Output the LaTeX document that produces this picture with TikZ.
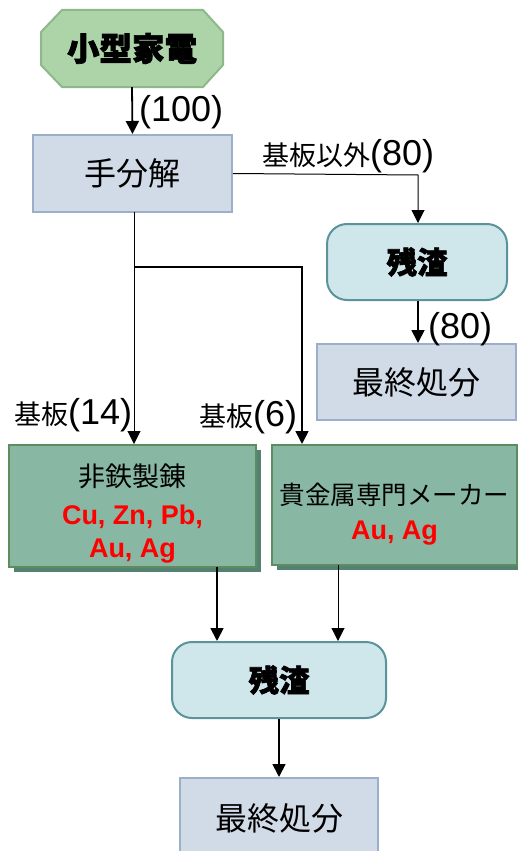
\documentclass[tikz,border=0pt]{standalone}
\usepackage{fontspec}
\setmainfont{Liberation Sans}
\newfontfamily\jp[BoldFeatures={FakeBold=2}]{Noto Sans CJK JP}
\usetikzlibrary{arrows.meta,shadows}
\definecolor{octfill}{HTML}{ADD4A8}
\definecolor{octdraw}{HTML}{8DB98A}
\definecolor{bluefill}{HTML}{D1DBE7}
\definecolor{bluedraw}{HTML}{9CAFC8}
\definecolor{tealfill}{HTML}{CFE6EB}
\definecolor{tealdraw}{HTML}{5A939C}
\definecolor{grnfill}{HTML}{88B8A3}
\definecolor{grndraw}{HTML}{5E8C5E}
\definecolor{grnshadow}{HTML}{548272}
\tikzset{
  bluebox/.style={rectangle, draw=bluedraw, fill=bluefill, line width=2pt, font=\jp\fontsize{32}{34}\selectfont},
  tealbox/.style={rectangle, rounded corners=20pt, draw=tealdraw, fill=tealfill, line width=2pt, font=\jp\bfseries\fontsize{30.5}{32}\selectfont},
  grnbox/.style={rectangle, draw=grndraw, fill=grnfill, line width=2pt, align=center,
    general shadow={shadow xshift=5pt, shadow yshift=-5pt, fill=grnshadow}},
  thick arrow/.style={line width=1.8pt, -{Triangle[length=13pt,width=13pt]}},
  thin arrow/.style={line width=1pt, -{Triangle[length=13pt,width=13pt]}},
  lbl/.style={inner sep=0pt, anchor=base west, font=\fontsize{36}{38}\selectfont},
  jplbl/.style={font=\jp\fontsize{27}{30}\selectfont},
  red/.style={text=red, font=\bfseries\fontsize{27}{33}\selectfont},
}
\begin{document}
\begin{tikzpicture}[x=1pt,y=-1pt]
\useasboundingbox (0,0) rectangle (518,851);
% octagon
\draw[fill=octfill, draw=octdraw, line width=2pt]
  (62,10) -- (203,10) -- (223,32) -- (223,65) -- (203,87) -- (62,87) -- (41,65) -- (41,32) -- cycle;
\node[minimum width=182pt, minimum height=77pt, inner sep=0pt, font=\jp\bfseries\fontsize{32.5}{34}\selectfont] (kaden) at (132,48.5) {小型家電};
\node[bluebox, minimum width=199pt, minimum height=77pt] (bunkai) at (132.5,173.5) {手分解};
\node[tealbox, minimum width=180pt, minimum height=76pt] (zan1) at (417,262) {残渣};
\node[bluebox, minimum width=199pt, minimum height=76pt] (saishu1) at (416.5,382) {最終処分};
\node[grnbox, minimum width=247pt, minimum height=122pt] (hitetsu) at (132.5,506) {};
\node[jplbl] (hitetsuT) at (132.5,476) {非鉄製錬};
\node[red, align=center] (hitetsuR) at (132.5,534) {Cu, Zn, Pb,\\Au, Ag};
\node[grnbox, minimum width=245pt, minimum height=120pt] (kikinzoku) at (394.5,505) {};
\node[font=\jp\fontsize{25.5}{28}\selectfont] (kikT) at (394.5,495) {貴金属専門メーカー};
\node[red] (kikR) at (394.5,533) {Au, Ag};
\node[tealbox, minimum width=214pt, minimum height=76pt] (zan2) at (279,680) {残渣};
\node[bluebox, minimum width=198pt, minimum height=80pt] (saishu2) at (279,818) {最終処分};
% connectors
\draw[thick arrow] (kaden.south) -- (bunkai.north);
\node[lbl] (l100) at (139,121) {(100)};
\coordinate (c1) at (418,175);
\draw[thin arrow] (bunkai.east) -- (c1) -- (zan1.north -| c1);
\node[lbl] (l80a) at (262,165) {{\jp\fontsize{27}{30}\selectfont 基板以外}(80)};
\draw[thick arrow] (zan1.south -| c1) -- (saishu1.north -| c1);
\node[lbl] (l80b) at (428,338) {(80)};
\coordinate (c2) at (134,212);
\draw[thin arrow] (c2) -- (hitetsu.north -| c2);
\coordinate (c3) at (134,267);
\coordinate (c4) at (302,267);
\draw[thick arrow] (c3) -- (c4) -- (kikinzoku.north -| c4);
\node[lbl] (l14) at (14,424) {{\jp\fontsize{27}{30}\selectfont 基板}(14)};
\node[lbl] (l6) at (199,426) {{\jp\fontsize{27}{30}\selectfont 基板}(6)};
\coordinate (c5) at (217,567);
\draw[thick arrow] (c5) -- (zan2.north -| c5);
\coordinate (c6) at (338,565);
\draw[thin arrow] (c6) -- (zan2.north -| c6);
\draw[thick arrow] (zan2.south) -- (saishu2.north);
\end{tikzpicture}
\end{document}
